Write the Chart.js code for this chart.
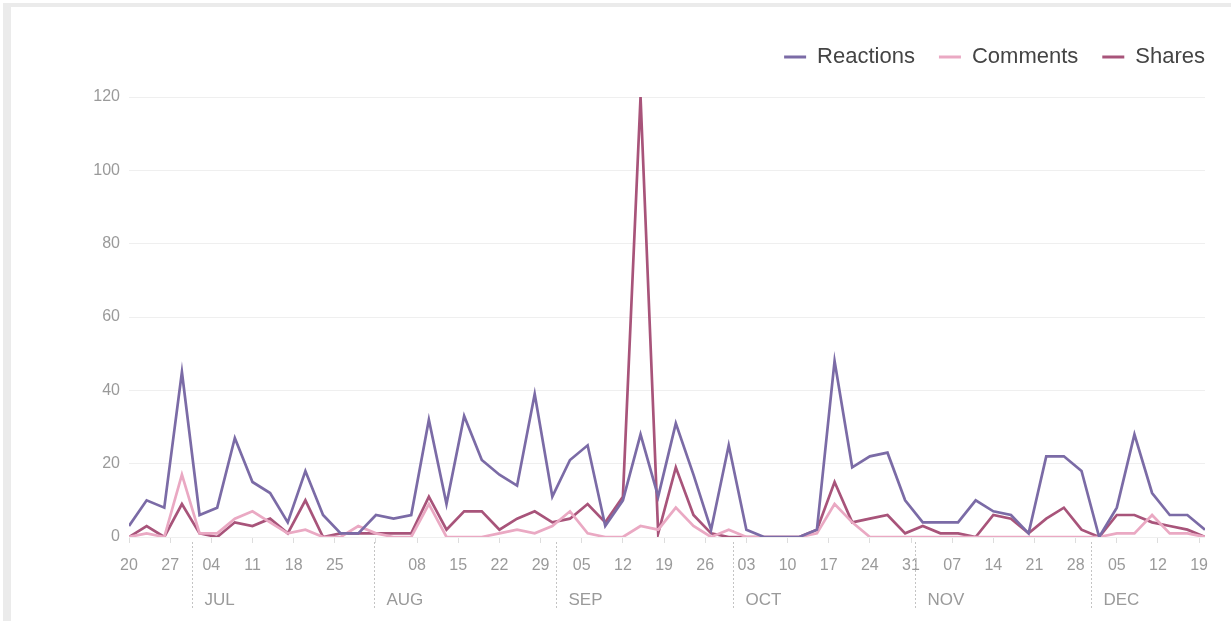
<!DOCTYPE html>
<html>
<head>
<meta charset="utf-8">
<script src="https://cdn.jsdelivr.net/npm/chart.js@4.4.1/dist/chart.umd.min.js"></script>
<style>
  html, body { margin: 0; padding: 0; background: #fff; }
  #frame { position: absolute; left: 3px; top: 3px; right: 0; bottom: 0;
           border-left: 8px solid #ebebeb; border-top: 4px solid #ebebeb; }
  #wrap { position: absolute; left: 0; top: 0; width: 1231px; height: 621px; }
</style>
</head>
<body>
<div id="frame"></div>
<div id="wrap"><canvas id="c" width="1231" height="621"></canvas></div>
<script>
// Engagement per 3-day bucket, starting 20 June
const firstDate = '2016-06-20';
const stepDays = 3;

const reactions = [3,10,8,45,6,8,27,15,12,4, 18,6,1,1,6,5,6,32,9,33,
                   21,17,14,39,11,21,25,3,10,28, 11,31,17,2,25,2,0,0,0,2,
                   48,19,22,23,10,4,4,4,10,7, 6,1,22,22,18,0,8,28,12,6,
                   6,2];
const comments  = [0,1,0,17,1,1,5,7,4,1, 2,0,0,3,1,0,0,9,0,0,
                   0,1,2,1,3,7,1,0,0,3, 2,8,3,0,2,0,0,0,0,1,
                   9,4,0,0,0,0,0,0,0,0, 0,0,0,0,0,0,1,1,6,1,
                   1,0];
const shares    = [0,3,0,9,1,0,4,3,5,1, 10,0,1,1,1,1,1,11,2,7,
                   7,2,5,7,4,5,9,4,11,120, 1,19,6,1,0,0,0,0,0,2,
                   15,4,5,6,1,3,1,1,0,6, 5,1,5,8,2,0,6,6,4,3,
                   2,0];

// Weekly tick labels (day of month); the 1 August tick sits under the month divider
const weekTickLabels = ['20','27','04','11','18','25','','08','15','22','29','05','12','19',
                        '26','03','10','17','24','31','07','14','21','28','05','12','19'];
const monthLabels = ['JUL','AUG','SEP','OCT','NOV','DEC'];
const monthStarts = ['2016-07-01','2016-08-01','2016-09-01','2016-10-01','2016-11-01','2016-12-01'];

const colors = { reactions: '#7b6ba6', comments: '#eaa9c3', shares: '#a8547a' };
const FONT = "'Liberation Sans', Arial, Helvetica, sans-serif";

const DAY = 86400000;
const t0 = Date.parse(firstDate + 'T00:00:00Z');
const dayOf = s => Math.round((Date.parse(s + 'T00:00:00Z') - t0) / DAY);
const xDays = reactions.map((_, i) => i * stepDays);
const pts = arr => arr.map((v, i) => ({ x: xDays[i], y: v }));
const lastDay = xDays[xDays.length - 1];

// extra room between the legend row and the plot
const legendGap = {
  id: 'legendGap',
  beforeInit(chart) {
    const fit = chart.legend.fit;
    chart.legend.fit = function () { fit.call(this); this.height += 19; };
  }
};

// month names under the week ticks, with dotted dividers at each month start
const monthAxis = {
  id: 'monthAxis',
  afterDraw(chart) {
    const { ctx, chartArea } = chart;
    const xs = chart.scales.x;
    ctx.save();
    monthStarts.forEach((d, i) => {
      const px = Math.round(xs.getPixelForValue(dayOf(d))) - 1.5;
      ctx.strokeStyle = '#c4c4c4';
      ctx.lineWidth = 1;
      ctx.setLineDash([2, 2]);
      ctx.beginPath();
      ctx.moveTo(px, chartArea.bottom + 5);
      ctx.lineTo(px, chartArea.bottom + 72);
      ctx.stroke();
      ctx.fillStyle = '#9a9a9a';
      ctx.font = '17px ' + FONT;
      ctx.textBaseline = 'middle';
      ctx.textAlign = 'left';
      ctx.fillText(monthLabels[i], px + 12, chartArea.bottom + 63);
    });
    ctx.restore();
  }
};

new Chart(document.getElementById('c'), {
  type: 'line',
  data: {
    datasets: [
      { label: 'Reactions', data: pts(reactions), borderColor: colors.reactions, backgroundColor: colors.reactions,
        borderWidth: 2.7, pointRadius: 0, tension: 0 },
      { label: 'Comments', data: pts(comments), borderColor: colors.comments, backgroundColor: colors.comments,
        borderWidth: 2.7, pointRadius: 0, tension: 0 },
      { label: 'Shares', data: pts(shares), borderColor: colors.shares, backgroundColor: colors.shares,
        borderWidth: 2.7, pointRadius: 0, tension: 0 }
    ]
  },
  options: {
    responsive: false,
    animation: false,
    layout: { padding: { left: 89, right: 2, top: 22, bottom: 0 } },
    plugins: {
      legend: {
        position: 'top',
        align: 'end',
        labels: {
          boxWidth: 22, boxHeight: 3, padding: 24, color: '#444',
          font: { family: FONT, size: 22 },
          generateLabels(chart) {
            const items = Chart.defaults.plugins.legend.labels.generateLabels(chart);
            items.forEach(it => { it.lineWidth = 0; });
            return items;
          }
        }
      },
      tooltip: { enabled: false }
    },
    scales: {
      x: {
        type: 'linear', min: 0, max: lastDay,
        grid: { drawOnChartArea: false, drawTicks: true, tickLength: 6, color: '#dddddd' },
        border: { display: false },
        ticks: {
          stepSize: 7, autoSkip: false, maxRotation: 0, includeBounds: false, padding: 13,
          color: '#9a9a9a', font: { family: FONT, size: 16 },
          callback: v => (v % 7 === 0 ? weekTickLabels[v / 7] : '')
        },
        afterFit(s) { s.height = 84; }
      },
      y: {
        min: 0, max: 120,
        grid: { color: '#efefef', drawTicks: false },
        border: { display: false },
        ticks: { stepSize: 20, padding: 9, color: '#9a9a9a', font: { family: FONT, size: 16 } },
        afterFit(s) { s.width = 40; }
      },
      y2: {
        type: 'linear', position: 'right', display: true,
        grid: { display: false }, border: { display: false }, ticks: { display: false },
        afterFit(s) { s.width = 24; }
      }
    }
  },
  plugins: [legendGap, monthAxis]
});
</script>
</body>
</html>
